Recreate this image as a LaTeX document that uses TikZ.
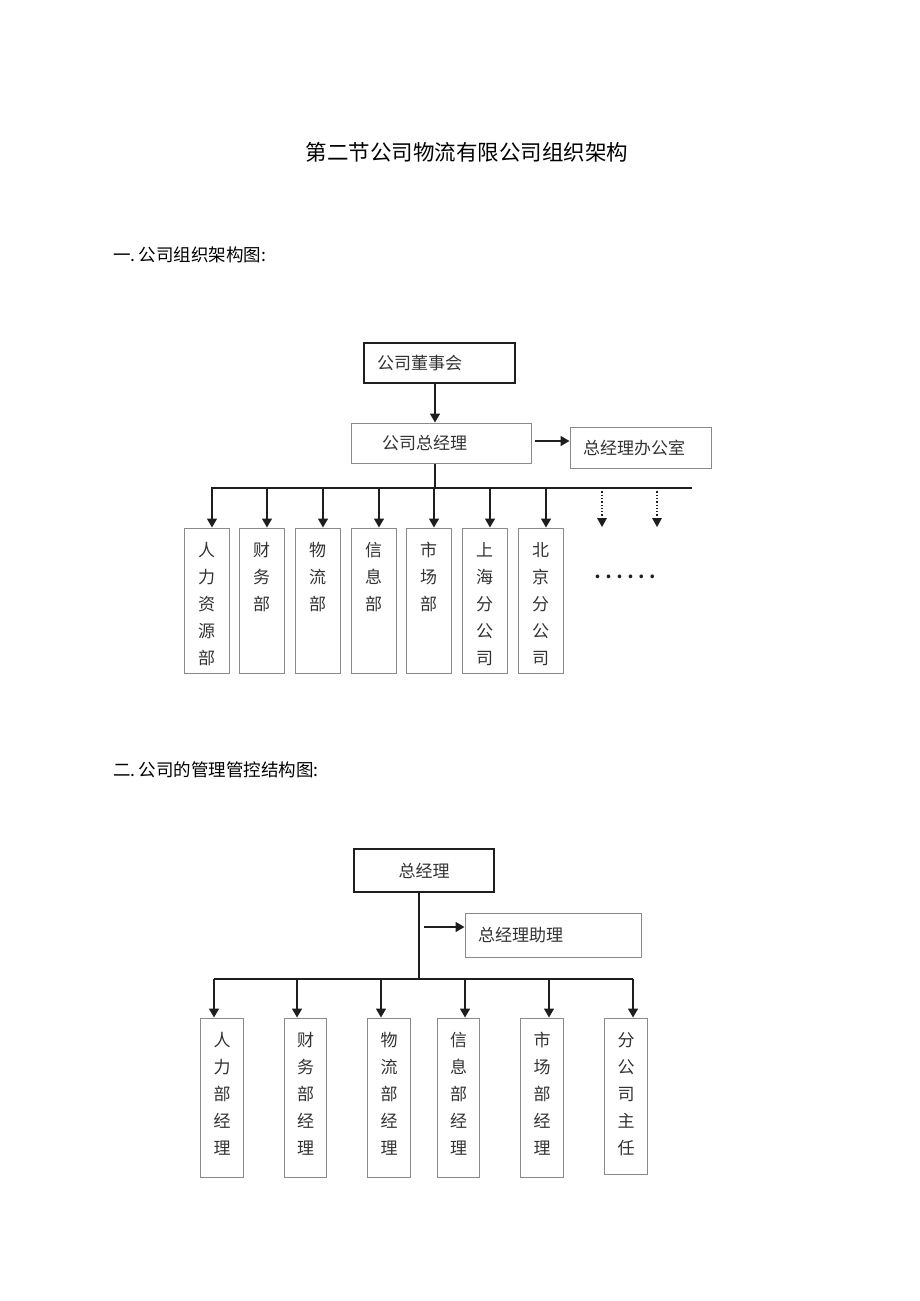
\documentclass[tikz,border=0pt]{standalone}
\usepackage{fontspec}
\setmainfont{Noto Sans CJK SC}
\usetikzlibrary{arrows.meta}
\definecolor{boxgray}{HTML}{8A8A8A}
\definecolor{txt}{HTML}{333333}
\definecolor{ln}{HTML}{1E1E1E}
\begin{document}
\begin{tikzpicture}[x=1pt,y=-1pt,
  every node/.style={text=txt},
  blackbox/.style={draw=ln, line width=1.6pt, inner ysep=0pt, font=\fontsize{17pt}{20pt}\selectfont},
  graybox/.style={draw=boxgray, line width=1pt, inner ysep=0pt, font=\fontsize{17pt}{20pt}\selectfont},
  vbox1/.style={draw=boxgray, line width=1pt, minimum width=45pt, minimum height=145pt, inner sep=0pt},
  vbox2/.style={draw=boxgray, line width=1pt, minimum width=42.5pt, minimum height=159pt, inner sep=0pt},
  vtext/.style={anchor=north, inner sep=0pt, align=center, font=\fontsize{17pt}{27pt}\selectfont},
  conn/.style={draw=ln, line width=1.6pt},
  arr/.style={draw=ln, line width=1.6pt, -{Triangle[length=9pt,width=10pt]}},
  darr/.style={draw=ln, line width=1.3pt, dotted, -{Triangle[length=9pt,width=10pt,line width=0pt]}},
  heading/.style={anchor=west, inner sep=0pt, text=black, font=\fontsize{17.5pt}{20pt}\selectfont}
]
\useasboundingbox (0,0) rectangle (920,1301);
\fill[white] (0,0) rectangle (920,1301);

% titles
\node[inner sep=0pt, text=black, font=\fontsize{21.5pt}{24pt}\selectfont] (title) at (467,152) {第二节公司物流有限公司组织架构};
\node[heading] (h1) at (113,255) {一.\kern3pt公司组织架构图:};
\node[heading] (h2) at (113,770) {二.\kern3pt公司的管理管控结构图:};

% ---------------- diagram 1 ----------------
\node[blackbox, text width=125pt, inner xsep=13pt, minimum height=40pt, align=left] (board) at (439.5,363) {公司董事会};
\node[graybox, text width=118pt, inner xsep=31pt, minimum height=40pt, align=left] (gm) at (441,443) {公司总经理};
\node[graybox, text width=115pt, inner xsep=13pt, minimum height=41pt, align=left] (office) at (640.5,447.5) {总经理办公室};

\coordinate (trunk) at (435,488);
\coordinate (busL) at (211,488);
\coordinate (busR) at (692,488);
\coordinate (oa) at (535,441);

\draw[arr] (board.south -| trunk) -- (gm.north -| trunk);
\draw[arr] (oa) -- (oa -| office.west);
\draw[conn] (gm.south -| trunk) -- (trunk);
\draw[conn] (busL) -- (busR);

\node[vbox1] (b1) at (206.5,600.5) {};
\node[vbox1] (b2) at (261.5,600.5) {};
\node[vbox1] (b3) at (317.5,600.5) {};
\node[vbox1] (b4) at (373.5,600.5) {};
\node[vbox1] (b5) at (428.5,600.5) {};
\node[vbox1] (b6) at (484.5,600.5) {};
\node[vbox1] (b7) at (540.5,600.5) {};

\node[vtext] (t1) at ([yshift=-14.5pt]b1.north) {人\\力\\资\\源\\部};
\node[vtext] (t2) at ([yshift=-14.5pt]b2.north) {财\\务\\部};
\node[vtext] (t3) at ([yshift=-14.5pt]b3.north) {物\\流\\部};
\node[vtext] (t4) at ([yshift=-14.5pt]b4.north) {信\\息\\部};
\node[vtext] (t5) at ([yshift=-14.5pt]b5.north) {市\\场\\部};
\node[vtext] (t6) at ([yshift=-14.5pt]b6.north) {上\\海\\分\\公\\司};
\node[vtext] (t7) at ([yshift=-14.5pt]b7.north) {北\\京\\分\\公\\司};

\foreach \b in {b1,b2,b3,b4,b5,b6,b7}{
  \draw[arr] ([xshift=5.5pt]\b.north |- busL) -- ([xshift=5.5pt]\b.north);
}

\coordinate (d1) at (602,527);
\coordinate (d2) at (657,527);
\draw[darr] (d1 |- busL) -- (d1);
\draw[darr] (d2 |- busL) -- (d2);
\node[inner sep=0pt, text=ln, font=\fontsize{17pt}{20pt}\selectfont\bfseries] (more) at (625,577) {.\kern5pt.\kern5pt.\kern5pt.\kern5pt.\kern5pt.};

% ---------------- diagram 2 ----------------
\node[blackbox, minimum width=140pt, minimum height=43pt, align=center] (ceo) at (424,870.5) {总经理};
\node[graybox, text width=150pt, inner xsep=13pt, minimum height=44pt, align=left] (asst) at (553,935) {总经理助理};

\coordinate (trunk2) at (419,979);
\coordinate (bus2L) at (214,979);
\coordinate (bus2R) at (633,979);
\coordinate (aa) at (424,927);

\draw[conn] (ceo.south -| trunk2) -- (trunk2);
\draw[arr] (aa) -- (aa -| asst.west);
\draw[conn] (bus2L) -- (bus2R);

\node[vbox2] (c1) at (222,1097.5) {};
\node[vbox2] (c2) at (305.5,1097.5) {};
\node[vbox2] (c3) at (389,1097.5) {};
\node[vbox2] (c4) at (458.5,1097.5) {};
\node[vbox2] (c5) at (542,1097.5) {};
\node[vbox2, minimum height=156pt] (c6) at (626,1096) {};

\node[vtext] (u1) at ([yshift=-14.5pt]c1.north) {人\\力\\部\\经\\理};
\node[vtext] (u2) at ([yshift=-14.5pt]c2.north) {财\\务\\部\\经\\理};
\node[vtext] (u3) at ([yshift=-14.5pt]c3.north) {物\\流\\部\\经\\理};
\node[vtext] (u4) at ([yshift=-14.5pt]c4.north) {信\\息\\部\\经\\理};
\node[vtext] (u5) at ([yshift=-14.5pt]c5.north) {市\\场\\部\\经\\理};
\node[vtext] (u6) at ([yshift=-14.5pt]c6.north) {分\\公\\司\\主\\任};

\draw[arr] ([xshift=-8pt]c1.north |- bus2L) -- ([xshift=-8pt]c1.north);
\draw[arr] ([xshift=-8.5pt]c2.north |- bus2L) -- ([xshift=-8.5pt]c2.north);
\draw[arr] ([xshift=-8pt]c3.north |- bus2L) -- ([xshift=-8pt]c3.north);
\draw[arr] ([xshift=6.5pt]c4.north |- bus2L) -- ([xshift=6.5pt]c4.north);
\draw[arr] ([xshift=7pt]c5.north |- bus2L) -- ([xshift=7pt]c5.north);
\draw[arr] ([xshift=7pt]c6.north |- bus2L) -- ([xshift=7pt]c6.north);
\end{tikzpicture}
\end{document}
